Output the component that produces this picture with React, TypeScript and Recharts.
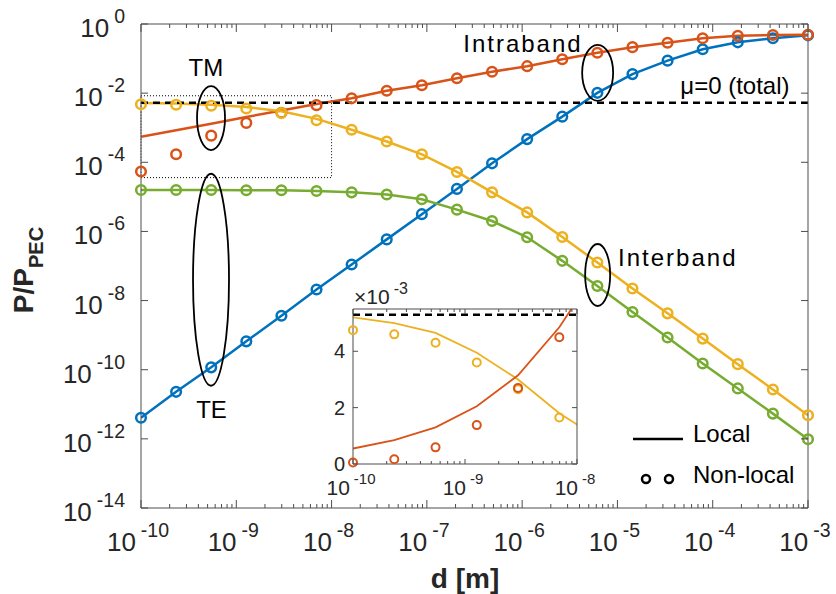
import React from "react";
import {
  CartesianGrid,
  ComposedChart,
  Line,
  ReferenceArea,
  ReferenceDot,
  ReferenceLine,
  XAxis,
  YAxis,
} from "recharts";

const BLUE = "#0072BD";
const ORANGE = "#D95319";
const YELLOW = "#EDB120";
const GREEN = "#77AC30";
const INK = "#262626";
const AXIS = "#4d4d4d";
const FONT = "'Liberation Sans', Arial, Helvetica, sans-serif";

// separation d [m]
const distances = [
  1e-10, 2.336e-10, 5.456e-10, 1.274e-9, 2.976e-9, 6.952e-9, 1.624e-8,
  3.793e-8, 8.859e-8, 2.069e-7, 4.833e-7, 1.129e-6, 2.637e-6, 6.158e-6,
  1.438e-5, 3.36e-5, 7.848e-5, 1.833e-4, 4.281e-4, 1e-3,
];

// P / P_PEC
const intraTE = [
  4.07e-12, 2.29e-11, 1.17e-10, 6.61e-10, 3.63e-9, 2.09e-8, 1.1e-7, 5.89e-7,
  3.16e-6, 1.7e-5, 9.33e-5, 4.68e-4, 2.09e-3, 1.02e-2, 3.55e-2, 8.71e-2,
  0.186, 0.295, 0.389, 0.47,
];
const intraTMLocal = [
  5.5e-4, 8.5e-4, 1.3e-3, 2.05e-3, 3.15e-3, 4.85e-3, 7.08e-3, 1.17e-2, 1.7e-2,
  2.69e-2, 4.17e-2, 6.03e-2, 9.55e-2, 0.148, 0.214, 0.288, 0.389, 0.457, 0.479,
  0.49,
];
const intraTMNonlocal = [
  5.4e-5, 1.7e-4, 5.9e-4, 1.38e-3, 2.7e-3, 4.5e-3, 7.08e-3, 1.17e-2, 1.7e-2,
  2.69e-2, 4.17e-2, 6.03e-2, 9.55e-2, 0.148, 0.214, 0.288, 0.389, 0.457, 0.479,
  0.49,
];
const interTMLocal = [
  5.2e-3, 5.0e-3, 4.65e-3, 3.95e-3, 3.0e-3, 1.8e-3, 8.7e-4, 3.98e-4, 1.7e-4,
  5.25e-5, 1.35e-5, 3.55e-6, 6.92e-7, 1.26e-7, 2.24e-8, 4.27e-9, 7.94e-10,
  1.45e-10, 2.69e-11, 4.79e-12,
];
const interTMNonlocal = [
  4.75e-3, 4.6e-3, 4.3e-3, 3.6e-3, 2.65e-3, 1.65e-3, 8.7e-4, 3.98e-4, 1.7e-4,
  5.25e-5, 1.35e-5, 3.55e-6, 6.92e-7, 1.26e-7, 2.24e-8, 4.27e-9, 7.94e-10,
  1.45e-10, 2.69e-11, 4.79e-12,
];
const interTE = [
  1.58e-5, 1.58e-5, 1.58e-5, 1.55e-5, 1.55e-5, 1.48e-5, 1.35e-5, 1.17e-5,
  8.5e-6, 4.27e-6, 2.0e-6, 6.76e-7, 1.41e-7, 2.63e-8, 4.68e-9, 8.51e-10,
  1.51e-10, 2.88e-11, 5.37e-12, 9.77e-13,
];
const muZeroTotal = 5.3e-3;

const xDecades = [1e-10, 1e-9, 1e-8, 1e-7, 1e-6, 1e-5, 1e-4, 1e-3];
const yDecades = [1, 1e-2, 1e-4, 1e-6, 1e-8, 1e-10, 1e-12, 1e-14];
const insetDecades = [1e-10, 1e-9, 1e-8];
const insetYTicks = [0, 2e-3, 4e-3];
const minorSteps = [2, 3, 4, 5, 6, 7, 8, 9];

const withMinor = (decs: number[]) =>
  decs.flatMap((m, i) =>
    i < decs.length - 1 ? [m, ...minorSteps.map((s) => s * m)] : [m]
  );
const xTicks = withMinor(xDecades);
const insetXTicks = withMinor(insetDecades);

const rows = distances.map((d, i) => ({
  d,
  intraTE: intraTE[i],
  intraTMLocal: intraTMLocal[i],
  interTMLocal: interTMLocal[i],
  interTE: interTE[i],
  intraTENl: intraTE[i],
  intraTMNl: intraTMNonlocal[i],
  interTMNl: interTMNonlocal[i],
  interTENl: interTE[i],
}));
const insetRows = rows.slice(0, 7);

const notes = [
  { text: "TM", x: 4.8e-10, y: 5.7e-2, spacing: 0 },
  { text: "TE", x: 5.5e-10, y: 7.2e-12, spacing: 0 },
  { text: "Intraband", x: 1.02e-6, y: 0.27, spacing: 2 },
  { text: "Interband", x: 4.3e-5, y: 1.74e-7, spacing: 2 },
  { text: "μ=0 (total)", x: 1.71e-4, y: 1.72e-2, spacing: 0 },
];
const ovals = [
  { x: 5.43e-10, y: 1.9e-3, rx: 14, ry: 32 },
  { x: 5.43e-10, y: 4.0e-8, rx: 18, ry: 106 },
  { x: 6.2e-6, y: 3.87e-2, rx: 15.5, ry: 28 },
  { x: 6.2e-6, y: 5.5e-8, rx: 12.5, ry: 31 },
];

const isDecade = (v: number) =>
  v > 0 && Math.abs(Math.log10(v) - Math.round(Math.log10(v))) < 1e-6;
const expOf = (v: number) => String(Math.round(Math.log10(v)));

type TickProps = { x?: number; y?: number; payload?: { value: number } };

function PowerLabel(props: {
  x: number;
  y: number;
  v: number;
  anchor: "middle" | "end";
  size: number;
  sup: number;
  rise: number;
  gap: number;
}) {
  return (
    <text
      x={props.x}
      y={props.y}
      textAnchor={props.anchor}
      fontSize={props.size}
      fill={INK}
      fontFamily={FONT}
    >
      10
      <tspan dx={props.gap} dy={-props.rise} fontSize={props.sup}>
        {expOf(props.v)}
      </tspan>
    </text>
  );
}

function BottomTick({ x = 0, y = 0, payload }: TickProps) {
  const v = payload?.value ?? 1;
  const major = isDecade(v);
  return (
    <g>
      <line x1={x} x2={x} y1={y} y2={y - (major ? 8 : 4)} stroke={AXIS} />
      {major && (
        <PowerLabel x={x - 3} y={y + 43} v={v} anchor="middle" size={26} sup={19.5} rise={14} gap={5} />
      )}
    </g>
  );
}

function TopTick({ x = 0, y = 0, payload }: TickProps) {
  const major = isDecade(payload?.value ?? 1);
  return <line x1={x} x2={x} y1={y} y2={y + (major ? 8 : 4)} stroke={AXIS} />;
}

function LeftTick({ x = 0, y = 0, payload }: TickProps) {
  const v = payload?.value ?? 1;
  return (
    <g>
      <line x1={x} x2={x + 7} y1={y} y2={y} stroke={AXIS} />
      <PowerLabel x={x - 16} y={y + 13} v={v} anchor="end" size={26} sup={19.5} rise={14} gap={5} />
    </g>
  );
}

function RightTick({ x = 0, y = 0 }: TickProps) {
  return <line x1={x} x2={x - 7} y1={y} y2={y} stroke={AXIS} />;
}

function InsetBottomTick({ x = 0, y = 0, payload }: TickProps) {
  const v = payload?.value ?? 1;
  const major = isDecade(v);
  return (
    <g>
      <line x1={x} x2={x} y1={y} y2={y - (major ? 5 : 3)} stroke={AXIS} />
      {major && (
        <PowerLabel x={x - 2} y={y + 31} v={v} anchor="middle" size={21} sup={15} rise={11} gap={4} />
      )}
    </g>
  );
}

function InsetTopTick({ x = 0, y = 0, payload }: TickProps) {
  const major = isDecade(payload?.value ?? 1);
  return <line x1={x} x2={x} y1={y} y2={y + (major ? 5 : 3)} stroke={AXIS} />;
}

function InsetLeftTick({ x = 0, y = 0, payload }: TickProps) {
  const v = payload?.value ?? 0;
  return (
    <g>
      <line x1={x} x2={x + 5} y1={y} y2={y} stroke={AXIS} />
      <text x={x - 8} y={y + 7} textAnchor="end" fontSize={20} fill={INK} fontFamily={FONT}>
        {Math.round(v * 1000)}
      </text>
    </g>
  );
}

function InsetRightTick({ x = 0, y = 0 }: TickProps) {
  return <line x1={x} x2={x - 5} y1={y} y2={y} stroke={AXIS} />;
}

const marker = (color: string, r: number, w: number) => ({
  r,
  stroke: color,
  strokeWidth: w,
  fill: "none",
  clipDot: false,
});

// shared axis settings: 1px-thick axes so the plot box sits exactly on the margins
const flatAxis = {
  interval: 0 as const,
  tickSize: 0,
  tickMargin: 0,
  tickLine: false,
  allowDataOverflow: true,
  axisLine: { stroke: AXIS },
};

export default function App() {
  const local = [
    { key: "intraTE", color: BLUE },
    { key: "intraTMLocal", color: ORANGE },
    { key: "interTMLocal", color: YELLOW },
    { key: "interTE", color: GREEN },
  ];
  const nonlocal = [
    { key: "intraTENl", color: BLUE },
    { key: "intraTMNl", color: ORANGE },
    { key: "interTMNl", color: YELLOW },
    { key: "interTENl", color: GREEN },
  ];

  return (
    <div
      style={{
        position: "absolute",
        left: 0,
        top: 0,
        width: 836,
        height: 594,
        background: "#fff",
        fontFamily: FONT,
      }}
    >
      <ComposedChart
        width={836}
        height={594}
        data={rows}
        margin={{ top: 23, right: 27, bottom: 85, left: 140 }}
      >
        <XAxis
          {...flatAxis}
          dataKey="d"
          type="number"
          scale="log"
          domain={[1e-10, 1e-3]}
          ticks={xTicks}
          height={1}
          tick={(p: TickProps) => <BottomTick {...p} />}
        />
        <XAxis
          {...flatAxis}
          xAxisId="top"
          orientation="top"
          dataKey="d"
          type="number"
          scale="log"
          domain={[1e-10, 1e-3]}
          ticks={xTicks}
          height={1}
          tick={(p: TickProps) => <TopTick {...p} />}
        />
        <YAxis
          {...flatAxis}
          type="number"
          scale="log"
          domain={[1e-14, 1]}
          ticks={yDecades}
          width={1}
          tick={(p: TickProps) => <LeftTick {...p} />}
        />
        <YAxis
          {...flatAxis}
          yAxisId="right"
          orientation="right"
          type="number"
          scale="log"
          domain={[1e-14, 1]}
          ticks={yDecades}
          width={1}
          tick={(p: TickProps) => <RightTick {...p} />}
        />
        <ReferenceArea
          x1={1e-10}
          x2={1e-8}
          y1={3.6e-5}
          y2={8.4e-3}
          fill="none"
          stroke="#000"
          strokeWidth={1}
          strokeDasharray="1 2"
        />
        {local.map((s) => (
          <Line
            key={s.key}
            dataKey={s.key}
            type="linear"
            stroke={s.color}
            strokeWidth={2.5}
            dot={false}
            activeDot={false}
            isAnimationActive={false}
          />
        ))}
        {nonlocal.map((s) => (
          <Line
            key={s.key}
            dataKey={s.key}
            type="linear"
            stroke="none"
            dot={marker(s.color, 4.8, 2.5)}
            activeDot={false}
            isAnimationActive={false}
          />
        ))}
        <ReferenceLine
          y={muZeroTotal}
          stroke="#000"
          strokeWidth={2.5}
          strokeDasharray="7 5"
        />
        {ovals.map((o, i) => (
          <ReferenceDot
            key={"oval" + i}
            x={o.x}
            y={o.y}
            r={1}
            shape={(p: { cx?: number; cy?: number }) => (
              <ellipse
                cx={p.cx}
                cy={p.cy}
                rx={o.rx}
                ry={o.ry}
                fill="none"
                stroke="#000"
                strokeWidth={1.8}
              />
            )}
          />
        ))}
        {notes.map((n) => (
          <ReferenceDot
            key={n.text}
            x={n.x}
            y={n.y}
            r={1}
            shape={(p: { cx?: number; cy?: number }) => (
              <text
                x={p.cx}
                y={p.cy}
                textAnchor="middle"
                dominantBaseline="central"
                fontSize={24}
                letterSpacing={n.spacing}
                fill="#000"
                fontFamily={FONT}
              >
                {n.text}
              </text>
            )}
          />
        ))}
      </ComposedChart>

      <div style={{ position: "absolute", left: 300, top: 280 }}>
        <ComposedChart
          width={300}
          height={230}
          data={insetRows}
          margin={{ top: 28, right: 22, bottom: 45, left: 52 }}
        >
          <CartesianGrid horizontal={false} vertical={false} fill="#fff" fillOpacity={1} />
          <XAxis
            {...flatAxis}
            dataKey="d"
            type="number"
            scale="log"
            domain={[1e-10, 1e-8]}
            ticks={insetXTicks}
            height={1}
            tick={(p: TickProps) => <InsetBottomTick {...p} />}
          />
          <XAxis
            {...flatAxis}
            xAxisId="top"
            orientation="top"
            dataKey="d"
            type="number"
            scale="log"
            domain={[1e-10, 1e-8]}
            ticks={insetXTicks}
            height={1}
            tick={(p: TickProps) => <InsetTopTick {...p} />}
          />
          <YAxis
            {...flatAxis}
            type="number"
            domain={[0, 5.5e-3]}
            ticks={insetYTicks}
            width={1}
            tick={(p: TickProps) => <InsetLeftTick {...p} />}
          />
          <YAxis
            {...flatAxis}
            yAxisId="right"
            orientation="right"
            type="number"
            domain={[0, 5.5e-3]}
            ticks={insetYTicks}
            width={1}
            tick={(p: TickProps) => <InsetRightTick {...p} />}
          />
          <ReferenceLine
            y={muZeroTotal}
            stroke="#000"
            strokeWidth={2.5}
            strokeDasharray="7 5"
          />
          <Line
            dataKey="interTMLocal"
            stroke={YELLOW}
            strokeWidth={1.8}
            dot={false}
            activeDot={false}
            isAnimationActive={false}
          />
          <Line
            dataKey="intraTMLocal"
            stroke={ORANGE}
            strokeWidth={1.8}
            dot={false}
            activeDot={false}
            isAnimationActive={false}
          />
          <Line
            dataKey="interTMNl"
            stroke="none"
            dot={marker(YELLOW, 4, 2)}
            activeDot={false}
            isAnimationActive={false}
          />
          <Line
            dataKey="intraTMNl"
            stroke="none"
            dot={marker(ORANGE, 4, 2)}
            activeDot={false}
            isAnimationActive={false}
          />
        </ComposedChart>
      </div>

      <svg
        width={836}
        height={594}
        style={{ position: "absolute", left: 0, top: 0, pointerEvents: "none" }}
        fontFamily={FONT}
      >
        <text x={354} y={304} fontSize={21} fill={INK}>
          ×10
          <tspan dx={4} dy={-10} fontSize={16}>
            -3
          </tspan>
        </text>
        <text
          x={465}
          y={588}
          textAnchor="middle"
          fontSize={28}
          fontWeight="bold"
          fill={INK}
        >
          d [m]
        </text>
        <text
          x={33}
          y={270}
          transform="rotate(-90 33 270)"
          textAnchor="middle"
          fontSize={28}
          fontWeight="bold"
          fill={INK}
        >
          P/P
          <tspan dy={10} fontSize={20}>
            PEC
          </tspan>
        </text>
        <line x1={633} x2={683} y1={439} y2={439} stroke="#000" strokeWidth={2.5} />
        <text x={693} y={442} fontSize={24} fill="#000">
          Local
        </text>
        <circle cx={646} cy={479} r={4} fill="none" stroke="#000" strokeWidth={2.5} />
        <circle cx={669} cy={479} r={4} fill="none" stroke="#000" strokeWidth={2.5} />
        <text x={693} y={483} fontSize={24} fill="#000">
          Non-local
        </text>
      </svg>
    </div>
  );
}
